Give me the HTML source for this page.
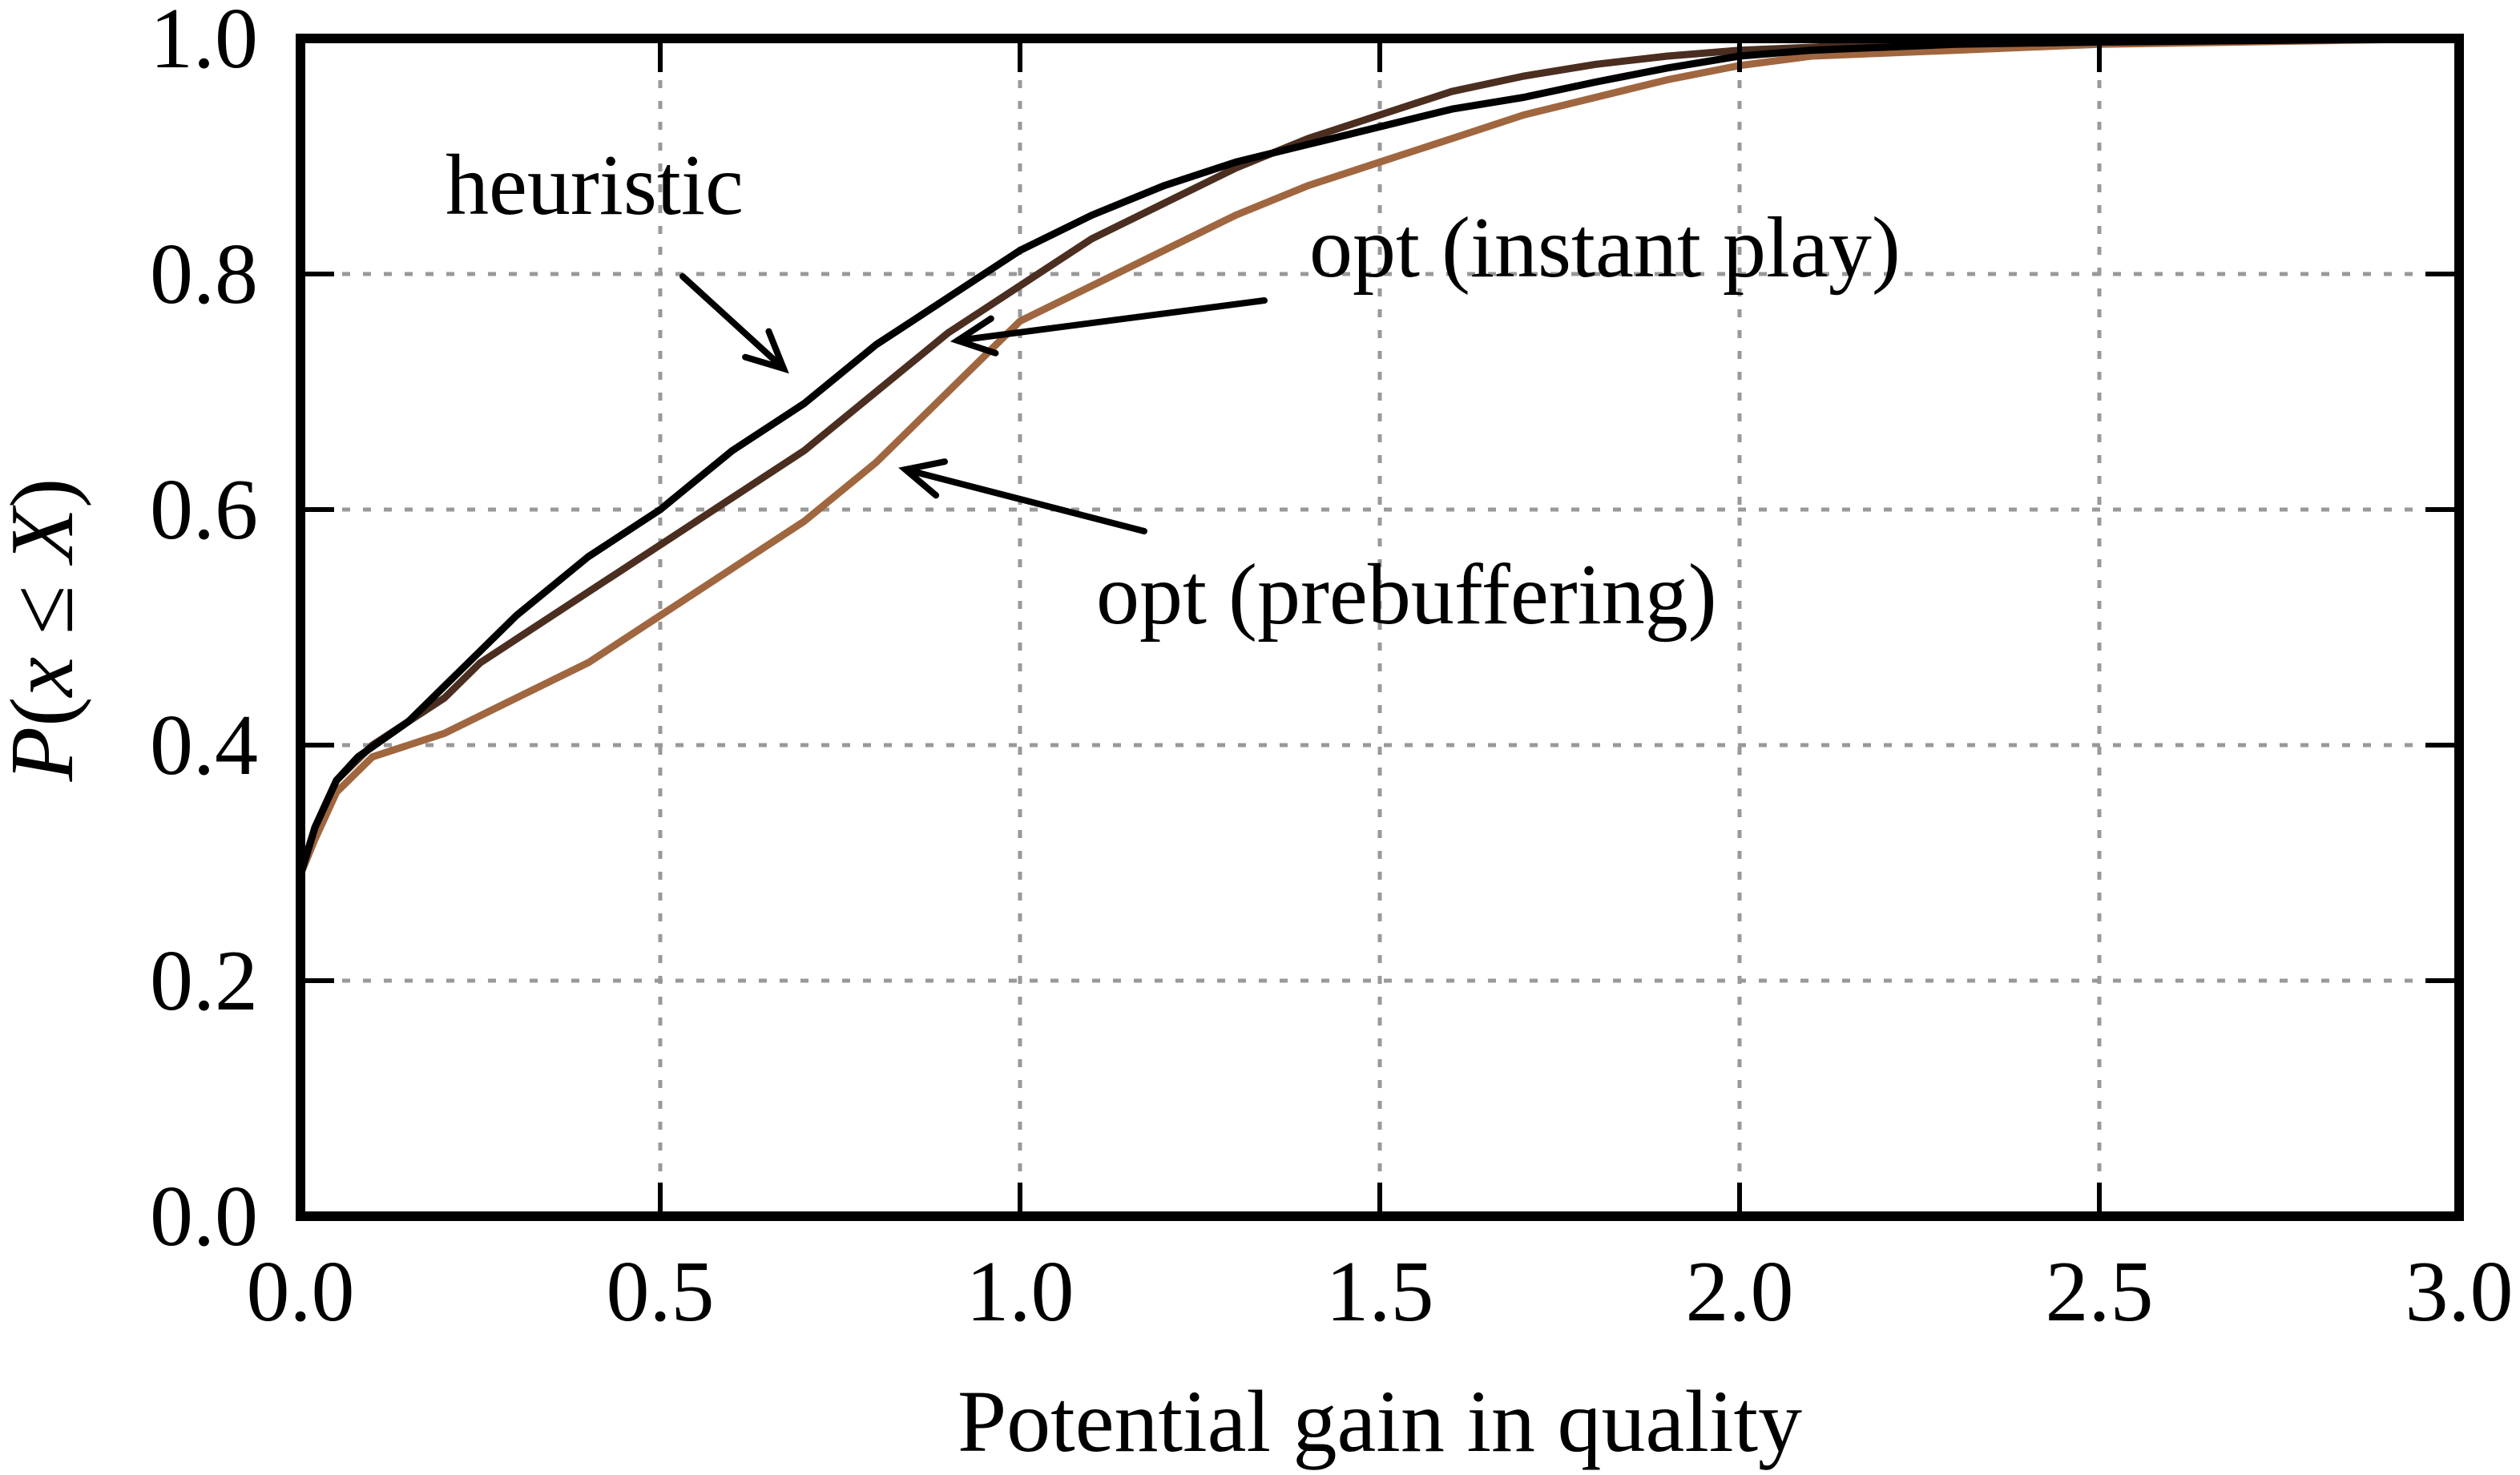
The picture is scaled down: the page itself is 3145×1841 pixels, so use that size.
<!DOCTYPE html>
<html><head><meta charset="utf-8"><style>
html,body{margin:0;padding:0;background:#fff;}
svg{display:block;}
text{font-family:"Liberation Serif",serif;fill:#000;}
</style></head><body>
<svg id="chart" width="3145" height="1841" viewBox="0 0 3145 1841" xmlns="http://www.w3.org/2000/svg">
<g id="grid"></g>
<g id="series"></g>
<g id="axes"></g>
<g id="annot"></g>
</svg>
<script>
const xTicks = [0, 0.5, 1.0, 1.5, 2.0, 2.5, 3.0];
const xTickLabels = ["0.0","0.5","1.0","1.5","2.0","2.5","3.0"];
const yTicks = [0, 0.2, 0.4, 0.6, 0.8, 1.0];
const yTickLabels = ["0.0","0.2","0.4","0.6","0.8","1.0"];
const seriesNames = ["heuristic","opt-instant-play","opt-prebuffering"];
const heurX = [0,0.02,0.05,0.08,0.15,0.2,0.25,0.3,0.4,0.5,0.6,0.7,0.8,0.9,1.0,1.1,1.2,1.3,1.4,1.5,1.6,1.7,1.8,1.9,2.0,2.1,2.3,2.5,3.0];
const heurY = [0.29,0.33,0.37,0.39,0.42,0.45,0.48,0.51,0.56,0.60,0.65,0.69,0.74,0.78,0.82,0.85,0.875,0.895,0.91,0.925,0.94,0.95,0.963,0.975,0.985,0.99,0.995,0.997,1.0];
const instX = [0,0.02,0.05,0.1,0.2,0.25,0.3,0.4,0.5,0.6,0.7,0.8,0.9,1.0,1.1,1.2,1.3,1.4,1.5,1.6,1.7,1.8,1.9,2.0,2.2,3.0];
const instY = [0.29,0.33,0.37,0.40,0.44,0.47,0.49,0.53,0.57,0.61,0.65,0.70,0.75,0.79,0.83,0.86,0.89,0.915,0.935,0.955,0.968,0.978,0.985,0.99,0.995,1.0];
const prebX = [0,0.02,0.05,0.1,0.2,0.3,0.4,0.5,0.6,0.7,0.8,0.9,1.0,1.1,1.2,1.3,1.4,1.5,1.6,1.7,1.8,1.9,2.0,2.1,2.3,2.5,3.0];
const prebY = [0.29,0.32,0.36,0.39,0.41,0.44,0.47,0.51,0.55,0.59,0.64,0.70,0.76,0.79,0.82,0.85,0.875,0.895,0.915,0.935,0.95,0.965,0.977,0.985,0.99,0.995,1.0];

const L=375,R=3069,T=48,B=1518;
const xs=v=>L+(v/3)*(R-L);
const ys=v=>B-v*(B-T);
const NS="http://www.w3.org/2000/svg";
function mk(tag,attrs,parent){const e=document.createElementNS(NS,tag);for(const k in attrs)e.setAttribute(k,attrs[k]);parent.appendChild(e);return e;}
const grid=document.getElementById('grid'),ser=document.getElementById('series'),ax=document.getElementById('axes'),an=document.getElementById('annot');

xTicks.forEach((v,i)=>{
  if(i>0&&i<xTicks.length-1){const g=mk('line',{x1:xs(v),x2:xs(v),y1:T,y2:B,stroke:'#999','stroke-width':5,'stroke-dasharray':'10 16'},grid);
  
  }
  const t1=mk('line',{x1:xs(v),x2:xs(v),y1:B,y2:B-42,stroke:'#000','stroke-width':6},ax);
  
  
  const t2=mk('line',{x1:xs(v),x2:xs(v),y1:T,y2:T+42,stroke:'#000','stroke-width':6},ax);
  
  
  const tx=mk('text',{x:xs(v),y:1648,'font-size':108,'text-anchor':'middle'},ax);tx.textContent=xTickLabels[i];
  
  
});
yTicks.forEach((v,i)=>{
  if(i>0&&i<yTicks.length-1){const g=mk('line',{x1:L,x2:R,y1:ys(v),y2:ys(v),stroke:'#999','stroke-width':5,'stroke-dasharray':'10 16'},grid);
  
  }
  const t1=mk('line',{x1:L,x2:L+42,y1:ys(v),y2:ys(v),stroke:'#000','stroke-width':6},ax);
  
  
  const t2=mk('line',{x1:R,x2:R-42,y1:ys(v),y2:ys(v),stroke:'#000','stroke-width':6},ax);
  
  
  const tx=mk('text',{x:322,y:ys(v)+36,'font-size':108,'text-anchor':'end'},ax);tx.textContent=yTickLabels[i];
  
  
});

function line(X,Y,color,name){
  const d=X.map((x,i)=>(i?'L':'M')+xs(x).toFixed(1)+','+ys(Y[i]).toFixed(1)).join(' ');
  const p=mk('path',{d:d,fill:'none',stroke:color,'stroke-width':9,'stroke-linejoin':'round'},ser);
  
  
}
line(prebX,prebY,'#a0663f',seriesNames[2]+'-line');
line(instX,instY,'#4b2e20',seriesNames[1]+'-line');
line(heurX,heurY,'#000000',seriesNames[0]+'-line');

const frame=mk('rect',{x:L,y:T,width:R-L,height:B-T,fill:'none',stroke:'#000','stroke-width':12},ax);



const xt=mk('text',{x:1722,y:1811,'font-size':110,'text-anchor':'middle'},ax);xt.textContent='Potential gain in quality';


const yt=mk('text',{x:0,y:0,'font-size':112,'text-anchor':'middle',transform:'translate(90,786) rotate(-90)'},ax);
yt.innerHTML='<tspan font-style="italic">P</tspan>(<tspan font-style="italic">x</tspan> ≤ <tspan font-style="italic">X</tspan>)';



function arrow(x1,y1,x2,y2,name){
  const g=mk('g',{},an);
  
  
  mk('line',{x1:x1,y1:y1,x2:x2,y2:y2,stroke:'#000','stroke-width':8,'stroke-linecap':'round'},g);
  const a=Math.atan2(y2-y1,x2-x1),h=50,s=0.45;
  const p1=[x2-h*Math.cos(a-s),y2-h*Math.sin(a-s)],p2=[x2-h*Math.cos(a+s),y2-h*Math.sin(a+s)];
  mk('polyline',{points:p1.join(',')+' '+x2+','+y2+' '+p2.join(','),fill:'none',stroke:'#000','stroke-width':8,'stroke-linecap':'round','stroke-linejoin':'miter'},g);
}
function label(x,y,s,name){const t=mk('text',{x:x,y:y,'font-size':108},an);t.textContent=s;
  
  }
label(556,267,'heuristic','heuristic-label');
arrow(852,345,978,460,'heuristic-arrow');
label(1634,345,'opt (instant play)','instant-play-label');
arrow(1578,375,1195,425,'instant-play-arrow');
label(1368,778,'opt (prebuffering)','prebuffering-label');
arrow(1428,663,1130,586,'prebuffering-arrow');
</script>
</body></html>
